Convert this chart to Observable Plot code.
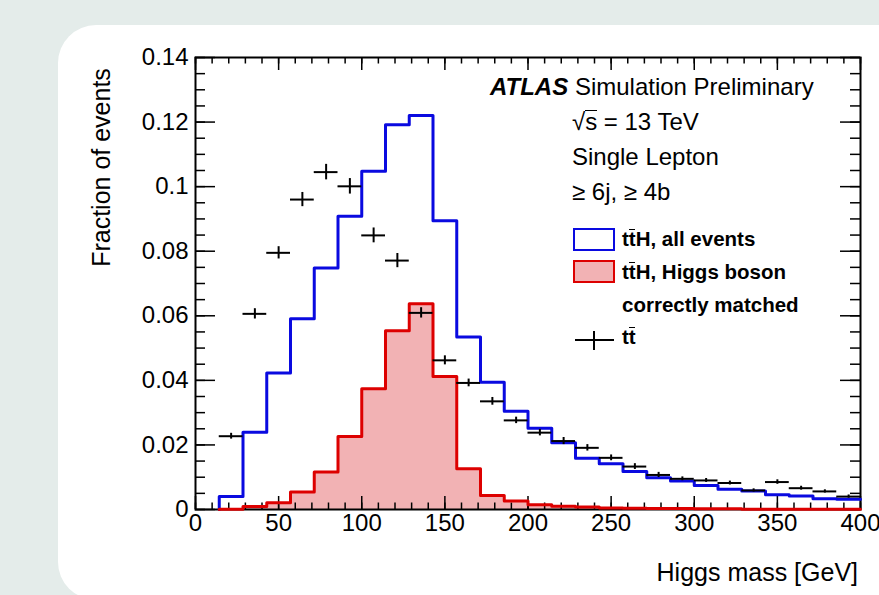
<!DOCTYPE html>
<html><head><meta charset="utf-8">
<script src="https://cdn.jsdelivr.net/npm/d3@7"></script>
<script src="https://cdn.jsdelivr.net/npm/@observablehq/plot@0.6"></script>
<style>
html,body{margin:0;padding:0;width:879px;height:595px;overflow:hidden;background:#e4ecea;font-family:"Liberation Sans",Arial,sans-serif;}
#panel{position:absolute;left:58px;top:25px;width:860px;height:575px;background:#fff;border-radius:38px;}
#chart{position:absolute;left:0;top:0;}
.t{position:absolute;white-space:nowrap;color:#000;line-height:1;}
.ov{position:relative;}
.ov::before{content:"";position:absolute;left:0.03em;right:0.03em;top:0.13em;border-top:1.6px solid #000;}
.ovs::before{top:0.07em;left:0;right:0;}
.box{position:absolute;box-sizing:border-box;}
.ln{position:absolute;background:#000;}
</style></head><body>
<div id="panel"></div>
<div id="chart"></div>
<div id="over"></div>
<script>
// ---- data ----
const xMax = 400, nBins = 28;
const ttH_all = [0, 0.0040, 0.0239, 0.0423, 0.0591, 0.0748, 0.0908, 0.1048, 0.1192, 0.1220,
  0.0894, 0.0534, 0.0394, 0.0304, 0.0252, 0.0207, 0.0159, 0.0142, 0.0118, 0.0098,
  0.0088, 0.0074, 0.0063, 0.0057, 0.0046, 0.0042, 0.0033, 0.0032];
const ttH_matched = [0, 0.0001, 0.0009, 0.0021, 0.0054, 0.0116, 0.0226, 0.0374, 0.0554, 0.0637,
  0.0412, 0.0126, 0.0043, 0.0026, 0.0015, 0.0010, 0.0008, 0.0005, 0.0004, 0.0003,
  0.0003, 0.0002, 0.0002, 0.0001, 0.0001, 0.0001, 0.0001, 0.0001];
const ttbar = [null, 0.0227, 0.0606, 0.0795, 0.0960, 0.1045, 0.1001, 0.0849, 0.0771, 0.0609,
  0.0462, 0.0392, 0.0335, 0.0276, 0.0238, 0.0212, 0.0191, 0.0160, 0.0133, 0.0107,
  0.0095, 0.0090, 0.0082, 0.0059, 0.0085, 0.0066, 0.0056, 0.0040];
const ttbarErr = [0, 0.0009, 0.0016, 0.0019, 0.0022, 0.0024, 0.0024, 0.0023, 0.0022, 0.0016,
  0.0014, 0.0012, 0.0012, 0.0010, 0.0010, 0.0011, 0.0010, 0.0009, 0.0009, 0.0008,
  0.0006, 0.0006, 0.0006, 0.0005, 0.0007, 0.0006, 0.0005, 0.0005];
const xTicks = [0, 50, 100, 150, 200, 250, 300, 350, 400];
const yTicks = [0, 0.02, 0.04, 0.06, 0.08, 0.1, 0.12, 0.14];
const xMinorStep = 10, yMinorStep = 0.005, yMax = 0.14;

// ---- derived tables ----
const edges = d3.range(nBins + 1).map(i => i * xMax / nBins);
const bins = d3.range(nBins).map(i => ({lo: edges[i], hi: edges[i+1], c: (edges[i]+edges[i+1])/2,
  all: ttH_all[i], matched: ttH_matched[i], tt: ttbar[i], err: ttbarErr[i]}));
function stepPts(vals, start) {
  const pts = [{x: edges[start], y: 0}];
  for (let i = start; i < nBins; i++) pts.push({x: edges[i], y: vals[i]});
  pts.push({x: edges[nBins], y: vals[nBins - 1]});
  return pts;
}
const allLine = stepPts(ttH_all, 1);
const matchedLine = stepPts(ttH_matched, 1);
const ttPts = bins.filter(d => d.tt != null);
const xMinor = d3.range(0, xMax + 0.1, xMinorStep);
const yMinor = d3.range(0, yMax + 1e-9, yMinorStep);

const W = 879, H = 595, mL = 195, mR = 19, mT = 57, mB = 86;
const iw = W - mL - mR, ih = H - mT - mB;
const tx = 13, txm = 6.5, ty = 20, tym = 10;

const chart = Plot.plot({
  width: W, height: H,
  marginLeft: mL, marginRight: mR, marginTop: mT, marginBottom: mB,
  style: {background: "transparent", fontFamily: "Liberation Sans, Arial, sans-serif", color: "#000", overflow: "visible"},
  x: {domain: [0, xMax]},
  y: {domain: [0, yMax]},
  marks: [
    Plot.areaY(matchedLine, {x: "x", y: "y", curve: "step-after", fill: "#f2b2b4"}),
    Plot.frame({stroke: "#000", strokeWidth: 2}),
    // x ticks bottom & top
    Plot.tickX(xMinor, {x: d => d, insetTop: ih - txm, stroke: "#000", strokeWidth: 1.5}),
    Plot.tickX(xTicks, {x: d => d, insetTop: ih - tx, stroke: "#000", strokeWidth: 1.5}),
    Plot.tickX(xMinor, {x: d => d, insetBottom: ih - txm, stroke: "#000", strokeWidth: 1.5}),
    Plot.tickX(xTicks, {x: d => d, insetBottom: ih - tx, stroke: "#000", strokeWidth: 1.5}),
    // y ticks left & right
    Plot.tickY(yMinor, {y: d => d, insetRight: iw - tym, stroke: "#000", strokeWidth: 1.5}),
    Plot.tickY(yTicks, {y: d => d, insetRight: iw - ty, stroke: "#000", strokeWidth: 1.5}),
    Plot.tickY(yMinor, {y: d => d, insetLeft: iw - tym, stroke: "#000", strokeWidth: 1.5}),
    Plot.tickY(yTicks, {y: d => d, insetLeft: iw - ty, stroke: "#000", strokeWidth: 1.5}),
    Plot.line(allLine, {x: "x", y: "y", curve: "step-after", stroke: "#0a0ae0", strokeWidth: 3}),
    Plot.line(matchedLine, {x: "x", y: "y", curve: "step-after", stroke: "#dd0000", strokeWidth: 3}),
    Plot.ruleY(ttPts, {y: "tt", x1: "lo", x2: "hi", stroke: "#000", strokeWidth: 2}),
    Plot.ruleX(ttPts, {x: "c", y1: d => d.tt - d.err, y2: d => d.tt + d.err, stroke: "#000", strokeWidth: 2}),
    Plot.axisX(xTicks, {anchor: "bottom", tickSize: 0, tickPadding: 4, fontSize: 24, tickFormat: d => String(d), label: null}),
    Plot.axisY(yTicks, {anchor: "left", tickSize: 0, tickPadding: 7, fontSize: 24, tickFormat: d => String(d), label: null})
  ]
});
document.getElementById("chart").appendChild(chart);

// ---- overlay texts & legend ----
const over = document.getElementById("over");
function txt(html, left, cy, fs, extra = "") {
  const d = document.createElement("div");
  d.className = "t";
  d.style.cssText = `left:${left}px;top:${cy - fs * 0.5}px;font-size:${fs}px;${extra}`;
  d.innerHTML = html;
  over.appendChild(d);
  return d;
}
function box(l, t, w, h, border, fill) {
  const d = document.createElement("div");
  d.className = "box";
  d.style.cssText = `left:${l}px;top:${t}px;width:${w}px;height:${h}px;border:2.5px solid ${border};background:${fill};`;
  over.appendChild(d);
}
function ln(l, t, w, h) {
  const d = document.createElement("div");
  d.className = "ln";
  d.style.cssText = `left:${l}px;top:${t}px;width:${w}px;height:${h}px;`;
  over.appendChild(d);
}
// axis titles
const yt = txt("Fraction of events", 101, 167, 25);
yt.style.transform = "translate(-50%, 0) rotate(-90deg)";
yt.style.transformOrigin = "50% 50%";
const xt = txt("Higgs mass [GeV]", 0, 572, 25);
xt.style.left = ""; xt.style.right = "21px";

txt('<b><i>ATLAS</i></b> Simulation Preliminary', 490, 87, 24);
txt('√<span class="ov ovs">s</span> = 13 TeV', 572, 122, 24);
txt('Single Lepton', 572, 157, 24);
txt('≥ 6j, ≥ 4b', 572, 192, 24);
box(573, 228, 42, 23, "#0a0ae0", "#fff");
txt('t<span class="ov">t</span>H, all events', 622, 239, 20.5, "font-weight:bold;");
box(573, 260, 42, 23, "#dd0000", "#f2b2b4");
txt('t<span class="ov">t</span>H, Higgs boson', 622, 272, 20.5, "font-weight:bold;");
txt('correctly matched', 622, 305, 20.5, "font-weight:bold;");
ln(575, 339, 39, 2);
ln(593, 331, 2, 19);
txt('t<span class="ov">t</span>', 622, 337, 20.5, "font-weight:bold;");
</script>
</body></html>
